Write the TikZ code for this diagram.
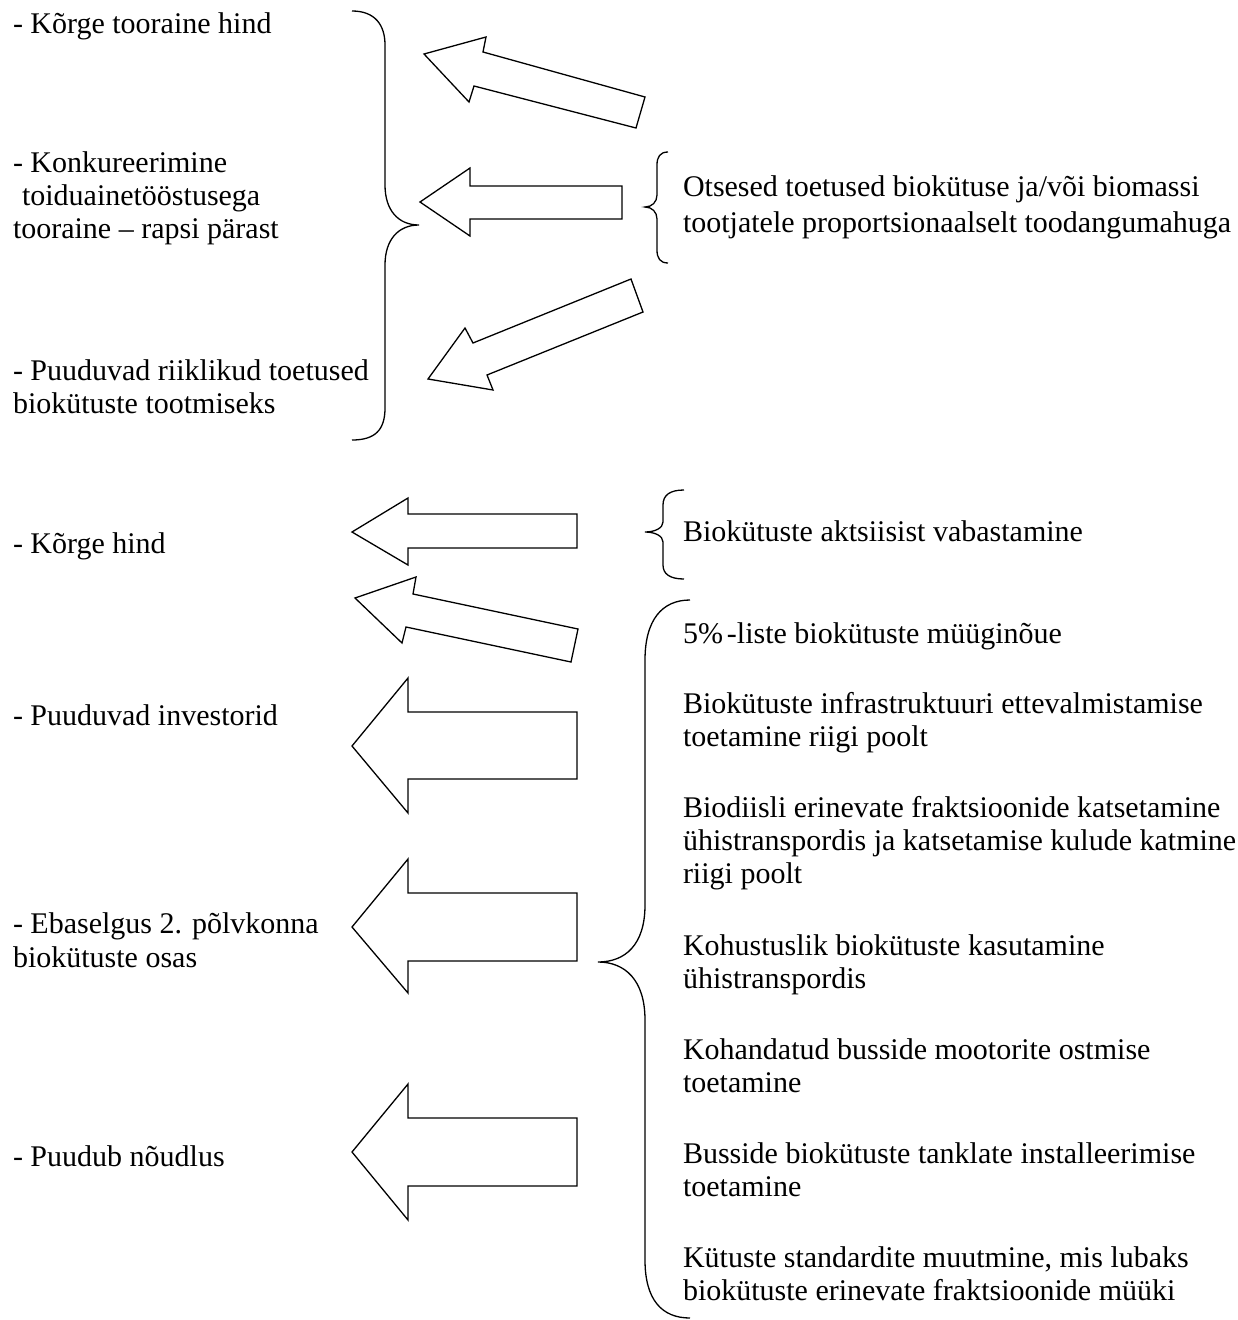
\documentclass[tikz,border=0pt]{standalone}
\usepackage{fontspec}
\setmainfont{Liberation Serif}
\begin{document}
\begin{tikzpicture}[x=1pt,y=-1pt,
  txt/.style={anchor=base west,inner sep=0pt,outer sep=0pt,font=\fontsize{30}{33}\selectfont},
  blk/.style={draw=black,line width=1.3pt,line join=miter,fill=white},
  brc/.style={draw=black,line width=1.3pt}]
\useasboundingbox (0,0) rectangle (1238,1320);

% ---------- left texts ----------
\node[txt] (l1) at (13,33) {- Kõrge tooraine hind};
\node[txt] (l2a) at (13,172) {- Konkureerimine};
\node[txt] (l2b) at (22,205) {toiduainetööstusega};
\node[txt] (l2c) at (13,238) {tooraine – rapsi pärast};
\node[txt] (l3a) at (13,380) {- Puuduvad riiklikud toetused};
\node[txt] (l3b) at (13,413) {biokütuste tootmiseks};
\node[txt] (l4) at (13,553) {- Kõrge hind};
\node[txt] (l5) at (13,725) {- Puuduvad investorid};
\node[txt] (l6a) at (13,933) {- Ebaselgus 2. põlvkonna};
\node[txt] (l6b) at (13,967) {biokütuste osas};
\node[txt] (l7) at (13,1166) {- Puudub nõudlus};

% ---------- right texts ----------
\node[txt] (r1a) at (683,196) {Otsesed toetused biokütuse ja/või biomassi};
\node[txt] (r1b) at (683,232) {tootjatele proportsionaalselt toodangumahuga};
\node[txt] (r2) at (683,541) {Biokütuste aktsiisist vabastamine};
\node[txt] (r3) at (683,643) {5\%\kern4pt-liste biokütuste müüginõue};
\node[txt] (r4a) at (683,713) {Biokütuste infrastruktuuri ettevalmistamise};
\node[txt] (r4b) at (683,746) {toetamine riigi poolt};
\node[txt] (r5a) at (683,817) {Biodiisli erinevate fraktsioonide katsetamine};
\node[txt] (r5b) at (683,850) {ühistranspordis ja katsetamise kulude katmine};
\node[txt] (r5c) at (683,883) {riigi poolt};
\node[txt] (r6a) at (683,955) {Kohustuslik biokütuste kasutamine};
\node[txt] (r6b) at (683,988) {ühistranspordis};
\node[txt] (r7a) at (683,1059) {Kohandatud busside mootorite ostmise};
\node[txt] (r7b) at (683,1092) {toetamine};
\node[txt] (r8a) at (683,1163) {Busside biokütuste tanklate installeerimise};
\node[txt] (r8b) at (683,1196) {toetamine};
\node[txt] (r9a) at (683,1267) {Kütuste standardite muutmine, mis lubaks};
\node[txt] (r9b) at (683,1300) {biokütuste erinevate fraktsioonide müüki};

% ---------- block arrows ----------
\draw[blk] (424,54) -- (486,37) -- (483,52) -- (645,97) -- (636,128) -- (474,86) -- (469,102) -- cycle;
\draw[blk] (420,202) -- (470,168) -- (470,186) -- (622,186) -- (622,219) -- (470,219) -- (470,236) -- cycle;
\draw[blk] (428,379) -- (465,328) -- (473,343) -- (631,279) -- (643,312) -- (487,375) -- (493,390) -- cycle;
\draw[blk] (352,532) -- (408,498) -- (408,514) -- (577,514) -- (577,548) -- (408,548) -- (408,565) -- cycle;
\draw[blk] (355,598) -- (416,577) -- (413,594) -- (578,629) -- (571,662) -- (406,627) -- (402,643) -- cycle;
\draw[blk] (352,746) -- (408,678) -- (408,712) -- (577,712) -- (577,779) -- (408,779) -- (408,813) -- cycle;
\draw[blk] (352,927) -- (408,859) -- (408,893) -- (577,893) -- (577,961) -- (408,961) -- (408,993) -- cycle;
\draw[blk] (352,1152) -- (408,1084) -- (408,1118) -- (577,1118) -- (577,1186) -- (408,1186) -- (408,1220) -- cycle;

% ---------- braces ----------
\draw[brc] (352,11) .. controls (375,11) and (385,25) .. (385,45) -- (385,185)
  .. controls (385,210) and (398,225) .. (419,225)
  .. controls (398,225) and (385,240) .. (385,265) -- (385,408)
  .. controls (385,430) and (375,440) .. (352,440);
\draw[brc] (668,152) .. controls (660,152) and (657,157) .. (657,165) -- (657,195)
  .. controls (657,202) and (652,207) .. (645,207)
  .. controls (652,207) and (657,212) .. (657,219) -- (657,250)
  .. controls (657,258) and (660,263) .. (668,263);
\draw[brc] (684,490) .. controls (670,490) and (663,495) .. (663,505) -- (663,522)
  .. controls (663,528) and (655,532) .. (645,532)
  .. controls (655,532) and (663,536) .. (663,542) -- (663,565)
  .. controls (663,574) and (670,579) .. (684,579);
\draw[brc] (690,600) .. controls (662,600) and (645,620) .. (645,660) -- (645,905)
  .. controls (645,945) and (625,962) .. (598,962)
  .. controls (625,962) and (645,980) .. (645,1020) -- (645,1260)
  .. controls (645,1300) and (662,1318) .. (690,1318);
\end{tikzpicture}
\end{document}
